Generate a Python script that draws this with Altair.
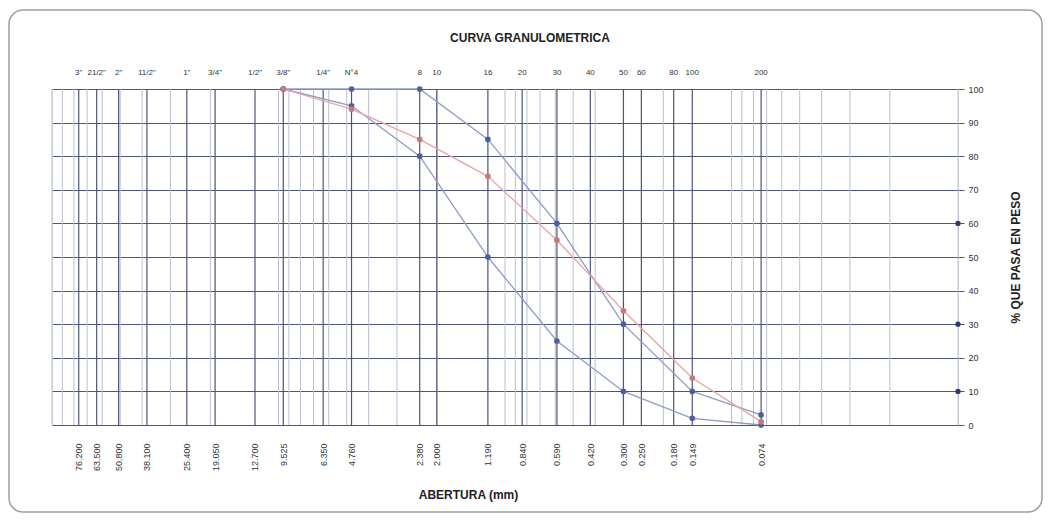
import altair as alt
import pandas as pd

# --- data ---
sieve_mm = [76.2, 63.5, 50.8, 38.1, 25.4, 19.05, 12.7, 9.525, 6.35, 4.76,
            2.38, 2.0, 1.19, 0.84, 0.59, 0.42, 0.30, 0.25, 0.18, 0.149, 0.074]
sieve_names = ['3"', '21/2"', '2"', '11/2"', '1"', '3/4"', '1/2"', '3/8"', '1/4"', 'N°4',
               '8', '10', '16', '20', '30', '40', '50', '60', '80', '100', '200']

curve_mm = [9.525, 4.76, 2.38, 1.19, 0.59, 0.30, 0.149, 0.074]
upper_limit = [100, 100, 100, 85, 60, 30, 10, 3]
sample = [100, 94, 85, 74, 55, 34, 14, 1]
lower_limit = [100, 95, 80, 50, 25, 10, 2, 0]

edge_mm = [0.01, 0.01, 0.01]
edge_vals = [60, 30, 10]

minor_mm = [k * 10 ** e for e in (-2, -1, 0, 1) for k in range(1, 10)] + [100]
y_ticks = list(range(0, 101, 10))

# --- tables ---
curves = pd.concat([
    pd.DataFrame({"mm": curve_mm, "pct": upper_limit, "serie": "Superior"}),
    pd.DataFrame({"mm": curve_mm, "pct": lower_limit, "serie": "Inferior"}),
    pd.DataFrame({"mm": curve_mm, "pct": sample, "serie": "Muestra"}),
])
sieves = pd.DataFrame({"mm": sieve_mm, "name": sieve_names})
minors = pd.DataFrame({"mm": minor_mm})
edges = pd.DataFrame({"mm": edge_mm, "pct": edge_vals})

FONT = "Liberation Sans"
xscale = alt.Scale(type="log", domain=[0.01, 100], reverse=True, nice=False)
yscale = alt.Scale(domain=[0, 100], nice=False)

xaxis = alt.Axis(values=sieve_mm, format=".3f", labelAngle=270,
                 labelAlign="right", labelBaseline="middle",
                 labelPadding=18, tickSize=0, grid=False, domain=False,
                 labelFontSize=9, labelColor="#333333", labelFont=FONT,
                 labelOverlap=False, labelBound=False, labelFlush=False,
                 title="ABERTURA (mm)", titleFont=FONT, titleFontSize=12,
                 titleFontWeight="bold", titleColor="#222222",
                 titleX=416, titleY=69, titleBaseline="middle",
                 titleAlign="center")

yaxis = alt.Axis(orient="right", values=y_ticks,
                 grid=True, gridColor="#4d5679", gridWidth=1.2,
                 tickSize=6, tickColor="#4d5679", domain=False,
                 labelFontSize=9, labelFont=FONT, labelColor="#333333",
                 labelPadding=4, labelOverlap=False,
                 title="% QUE PASA EN PESO", titleFont=FONT,
                 titleFontSize=12, titleFontWeight="bold",
                 titleColor="#222222", titleAngle=270,
                 titleX=57, titleY=168, titleBaseline="middle",
                 titleAlign="center")

line_colors = alt.Scale(domain=["Superior", "Inferior", "Muestra"],
                        range=["#8e9cc6", "#8e9cc6", "#e8a4a4"])
point_colors = alt.Scale(domain=["Superior", "Inferior", "Muestra"],
                         range=["#4b5f9e", "#4b5f9e", "#c47a7a"])

frame = alt.Chart(pd.DataFrame({"a": [0]})).mark_rect(
    fill=None, stroke="#a0a0a0", strokeWidth=1.5, cornerRadius=14
).encode(x=alt.value(-43), x2=alt.value(990), y=alt.value(-79), y2=alt.value(423))

minor_rules = alt.Chart(minors).mark_rule(color="#b9bed3", strokeWidth=1).encode(
    x=alt.X("mm:Q", scale=xscale, axis=xaxis)
)

sieve_rules = alt.Chart(sieves).mark_rule(color="#4d5679", strokeWidth=1.2).encode(
    x=alt.X("mm:Q", scale=xscale, axis=xaxis)
)

top_labels = alt.Chart(sieves).mark_text(
    fontSize=8, font=FONT, color="#333333", baseline="middle"
).encode(x=alt.X("mm:Q", scale=xscale, axis=xaxis), y=alt.value(-16), text="name:N")

lines = alt.Chart(curves).mark_line(strokeWidth=1.3).encode(
    x=alt.X("mm:Q", scale=xscale, axis=xaxis),
    y=alt.Y("pct:Q", scale=yscale, axis=yaxis),
    color=alt.Color("serie:N", scale=line_colors, legend=None),
    detail="serie:N",
)

points = alt.Chart(curves).mark_point(filled=True, size=32, opacity=1).encode(
    x=alt.X("mm:Q", scale=xscale, axis=xaxis),
    y=alt.Y("pct:Q", scale=yscale, axis=yaxis),
    color=alt.Color("serie:N", scale=point_colors, legend=None),
)

edge_points = alt.Chart(edges).mark_point(filled=True, size=28, color="#2e3a6e",
                                          opacity=1).encode(
    x=alt.X("mm:Q", scale=xscale, axis=xaxis),
    y=alt.Y("pct:Q", scale=yscale, axis=yaxis),
)

title = alt.Chart(pd.DataFrame({"t": ["CURVA GRANULOMETRICA"]})).mark_text(
    fontSize=12, fontWeight="bold", font=FONT, color="#222222", baseline="middle"
).encode(x=alt.value(478), y=alt.value(-51), text="t:N")

chart = alt.layer(
    frame, minor_rules, sieve_rules, lines, points, edge_points, top_labels, title
).resolve_scale(color="independent").properties(
    width=906, height=336,
    autosize=alt.AutoSizeParams(type="none"),
    padding={"left": 44, "top": 81, "right": 85, "bottom": 89},
).configure_view(stroke="#2e3a6e", strokeWidth=2).configure(background="white")

chart.save("out.html", embed_options={"renderer": "svg", "actions": False})
